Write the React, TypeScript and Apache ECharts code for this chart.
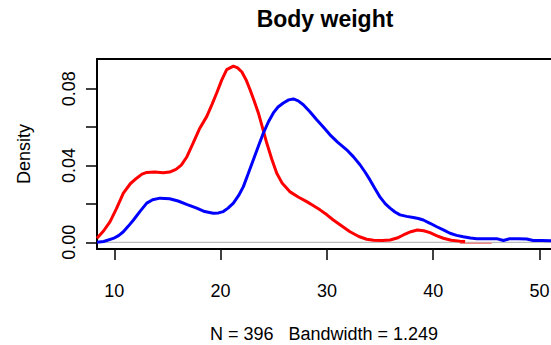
import React, { useEffect, useRef } from "react";
import * as echarts from "echarts";

// Kernel density estimates of body weight for two groups
const redX = [8.37, 9.0, 9.6, 10.2, 10.85, 11.5, 12.1, 12.6, 13.05, 13.8, 14.6, 15.2, 15.8, 16.3, 16.8, 17.4, 18.0, 18.7, 19.2, 19.63, 20.1, 20.57, 21.2, 21.6, 22.0, 22.4, 22.77, 23.15, 23.55, 23.95, 24.34, 24.8, 25.28, 25.8, 26.5, 27.3, 28.1, 28.7, 29.35, 30.0, 30.6, 31.4, 32.17, 33.0, 33.74, 34.4, 35.2, 35.94, 36.6, 37.19, 37.9, 38.5, 39.1, 39.7, 40.3, 40.95, 41.7, 42.5, 43.0];
const redY = [0.0021, 0.006, 0.0108, 0.0175, 0.0256, 0.0305, 0.0334, 0.0355, 0.0364, 0.0366, 0.0362, 0.0366, 0.038, 0.0402, 0.0443, 0.0515, 0.059, 0.0656, 0.072, 0.0778, 0.0845, 0.09, 0.0918, 0.0909, 0.0887, 0.0846, 0.0795, 0.0738, 0.0674, 0.0595, 0.0517, 0.0435, 0.036, 0.0307, 0.0264, 0.0236, 0.0212, 0.0192, 0.0169, 0.0143, 0.0116, 0.0085, 0.0055, 0.003, 0.0016, 0.0011, 0.0009, 0.0012, 0.0022, 0.0038, 0.0055, 0.0064, 0.006, 0.005, 0.0035, 0.0021, 0.0011, 0.0006, 0.0004];

const blueX = [8.37, 9.0, 9.9, 10.4, 10.85, 11.3, 11.8, 12.4, 13.05, 13.6, 14.3, 15.2, 16.0, 16.8, 17.75, 18.5, 19.3, 19.8, 20.25, 20.7, 21.2, 21.7, 22.14, 22.6, 23.08, 23.55, 24.02, 24.5, 24.96, 25.4, 25.9, 26.4, 26.84, 27.3, 27.78, 28.4, 29.04, 29.7, 30.29, 31.0, 31.86, 32.5, 33.11, 33.6, 34.05, 34.5, 35.0, 35.5, 35.94, 36.4, 36.88, 37.5, 38.13, 38.6, 39.07, 39.7, 40.33, 41.0, 41.58, 42.2, 42.83, 43.5, 44.1, 45.0, 45.97, 46.6, 47.2, 48.0, 48.8, 49.4, 50.2, 51.08];
const blueY = [0.0, 0.0004, 0.002, 0.0035, 0.0055, 0.0083, 0.0116, 0.016, 0.0204, 0.0222, 0.023, 0.0227, 0.0215, 0.0198, 0.0178, 0.016, 0.0151, 0.0153, 0.016, 0.0178, 0.0204, 0.0244, 0.029, 0.0358, 0.043, 0.05, 0.0569, 0.0628, 0.0674, 0.0705, 0.0726, 0.0742, 0.0747, 0.0737, 0.0717, 0.068, 0.0639, 0.0598, 0.056, 0.0522, 0.0482, 0.0445, 0.0404, 0.0365, 0.0325, 0.0282, 0.0235, 0.02, 0.0178, 0.0158, 0.0143, 0.0135, 0.0129, 0.0124, 0.0116, 0.0099, 0.0081, 0.0063, 0.0047, 0.0036, 0.0029, 0.0022, 0.0019, 0.0019, 0.0019, 0.0009, 0.0019, 0.0018, 0.0017, 0.0009, 0.0009, 0.0008];

// faint tail of the red estimate near zero
const redTailX = [42.5, 45.5];
const redTailY = [-0.0005, -0.0005];

const xTicks = [10, 20, 30, 40, 50];
const yTicks = [0, 0.02, 0.04, 0.06, 0.08];
const yLabels = [0, 0.04, 0.08];

const X_MIN = 8.37;
const X_MAX = 51.08;
const Y_MIN = -0.0035;
const Y_MAX = 0.0955;

const FONT = "'Liberation Sans', Arial, Helvetica, sans-serif";

const pairs = (xs: number[], ys: number[]) => xs.map((x, i) => [x, ys[i]]);

export default function App() {
  const ref = useRef<HTMLDivElement>(null);

  useEffect(() => {
    if (!ref.current) return;
    const chart = echarts.init(ref.current, undefined, { renderer: "svg" });
    chart.setOption({
      animation: false,
      backgroundColor: "#ffffff",
      graphic: [
        {
          type: "text",
          x: 325,
          y: 19,
          style: {
            text: "Body weight",
            font: `bold 23px ${FONT}`,
            fill: "#000",
            textAlign: "center",
            textVerticalAlign: "middle",
          },
        },
        {
          type: "text",
          x: 324,
          y: 334,
          style: {
            text: "N = 396   Bandwidth = 1.249",
            font: `18px ${FONT}`,
            fill: "#000",
            textAlign: "center",
            textVerticalAlign: "middle",
          },
        },
        {
          type: "text",
          x: 24,
          y: 154,
          rotation: Math.PI / 2,
          style: {
            text: "Density",
            font: `18px ${FONT}`,
            fill: "#000",
            textAlign: "center",
            textVerticalAlign: "middle",
          },
        },
      ],
      grid: { left: 97, right: 0, top: 59, bottom: 96, outerBoundsMode: "none" },
      xAxis: [
        {
          type: "value",
          position: "bottom",
          min: X_MIN,
          max: X_MAX,
          axisLine: { show: true, onZero: false, lineStyle: { color: "#000", width: 2 } },
          axisTick: { show: true, length: 11, customValues: xTicks, lineStyle: { color: "#000", width: 1.5 } },
          axisLabel: {
            customValues: xTicks,
            margin: 33,
            fontFamily: FONT,
            fontSize: 18,
            color: "#000",
          },
          splitLine: { show: false },
        },
        {
          type: "value",
          position: "top",
          min: X_MIN,
          max: X_MAX,
          axisLine: { show: true, onZero: false, lineStyle: { color: "#000", width: 2 } },
          axisTick: { show: false },
          axisLabel: { show: false },
          splitLine: { show: false },
        },
      ],
      yAxis: {
        type: "value",
        min: Y_MIN,
        max: Y_MAX,
        axisLine: { show: true, onZero: false, lineStyle: { color: "#000", width: 2 } },
        axisTick: { show: true, length: 11, customValues: yTicks, lineStyle: { color: "#000", width: 1.5 } },
        axisLabel: {
          customValues: yLabels,
          rotate: 90,
          margin: 19,
          fontFamily: FONT,
          fontSize: 18,
          color: "#000",
          formatter: (v: number) => v.toFixed(2),
        },
        splitLine: { show: false },
      },
      series: [
        {
          type: "line",
          name: "zero",
          data: [[X_MIN, 0], [X_MAX, 0]],
          symbol: "none",
          silent: true,
          lineStyle: { color: "#bdbdbd", width: 1.2 },
          z: 1,
        },
        {
          type: "line",
          name: "tail",
          data: pairs(redTailX, redTailY),
          symbol: "none",
          lineStyle: { color: "#f08a8a", width: 1.5 },
          z: 2,
        },
        {
          type: "line",
          name: "red",
          data: pairs(redX, redY),
          symbol: "none",
          lineStyle: { color: "#ff0000", width: 3 },
          z: 3,
        },
        {
          type: "line",
          name: "blue",
          data: pairs(blueX, blueY),
          symbol: "none",
          lineStyle: { color: "#0000ff", width: 3 },
          z: 4,
        },
      ],
    });
    return () => chart.dispose();
  }, []);

  return <div ref={ref} style={{ width: 551, height: 345, position: "absolute", left: 0, top: 0 }} />;
}
